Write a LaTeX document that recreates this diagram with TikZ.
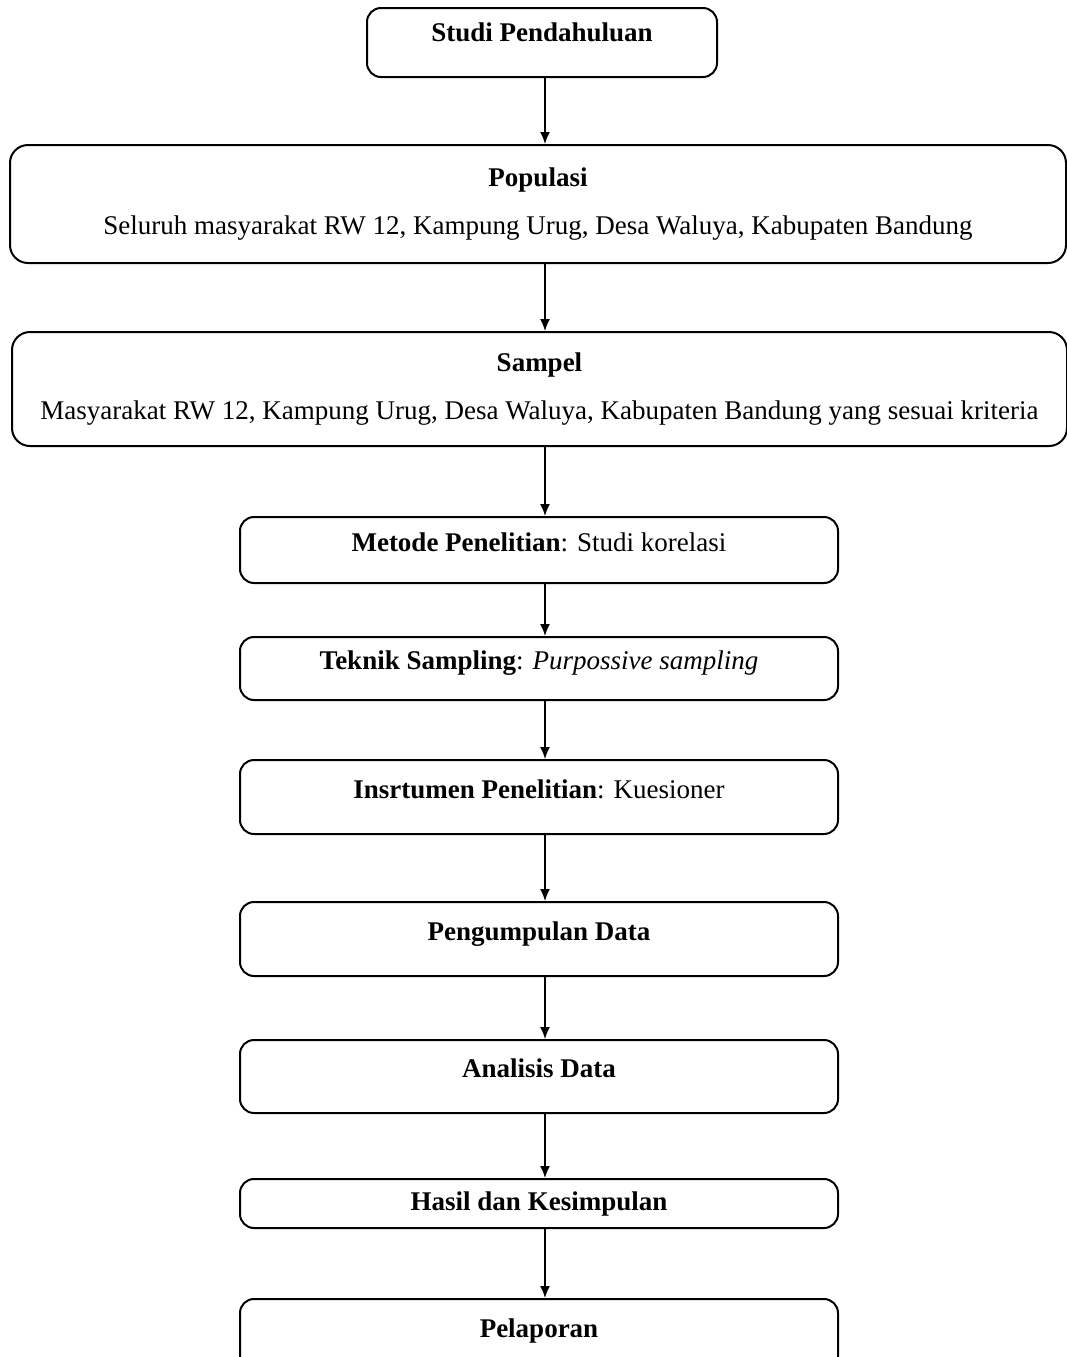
\documentclass[tikz,border=0pt]{standalone}
\usepackage{fontspec}
\setmainfont{Liberation Serif}
\usetikzlibrary{positioning,arrows.meta}

\begin{document}
\begin{tikzpicture}[
    x=0.5pt, y=-0.5pt,
    every node/.style={font=\fontsize{13.5}{16}\selectfont},
    stage/.style={rectangle, draw, line width=1pt, rounded corners=7pt, minimum width=299pt, text height=9.5pt, text depth=8.5pt},
    widestage/.style={stage, rounded corners=9pt, align=center, text height=, text depth=},
    flow/.style={-{Latex[length=6pt,width=5pt]}, line width=0.8pt}
]
\useasboundingbox (0,0) rectangle (1067,1357);

% Stages
\node[stage, minimum width=175pt, minimum height=34.5pt, text depth=10.5pt] (studi) at (542,42.5) {\textbf{Studi Pendahuluan}};
\node[widestage, minimum width=528pt, minimum height=59pt] (populasi) at (538,204) {\textbf{Populasi}\\[8pt]Seluruh masyarakat RW 12, Kampung Urug, Desa Waluya, Kabupaten Bandung};
\node[widestage, minimum width=527.5pt, minimum height=57pt] (sampel) at (539.5,389) {\textbf{Sampel}\\[8pt]Masyarakat RW 12, Kampung Urug, Desa Waluya, Kabupaten Bandung yang sesuai kriteria};
\node[stage, minimum height=33pt] (metode) at (539,550) {\textbf{Metode Penelitian}: Studi korelasi};
\node[stage, minimum height=31.5pt] (teknik) at (539,668.5) {\textbf{Teknik Sampling}: \textit{Purpossive sampling}};
\node[stage, minimum height=37pt] (instrumen) at (539,797) {\textbf{Insrtumen Penelitian}: Kuesioner};
\node[stage, minimum height=37pt] (pengumpulan) at (539,939) {\textbf{Pengumpulan Data}};
\node[stage, minimum height=36.5pt] (analisis) at (539,1076.5) {\textbf{Analisis Data}};
\node[stage, minimum height=24.5pt, text height=, text depth=] (hasil) at (539,1203.5) {\textbf{Hasil dan Kesimpulan}};
\node[stage, minimum height=37pt] (pelaporan) at (539,1336) {\textbf{Pelaporan}};

% Flow
\coordinate (axis) at (545,0);
\draw[flow] (studi.south -| axis) -- (populasi.north -| axis);
\draw[flow] (populasi.south -| axis) -- (sampel.north -| axis);
\draw[flow] (sampel.south -| axis) -- (metode.north -| axis);
\draw[flow] (metode.south -| axis) -- (teknik.north -| axis);
\draw[flow] (teknik.south -| axis) -- (instrumen.north -| axis);
\draw[flow] (instrumen.south -| axis) -- (pengumpulan.north -| axis);
\draw[flow] (pengumpulan.south -| axis) -- (analisis.north -| axis);
\draw[flow] (analisis.south -| axis) -- (hasil.north -| axis);
\draw[flow] (hasil.south -| axis) -- (pelaporan.north -| axis);

\end{tikzpicture}
\end{document}
